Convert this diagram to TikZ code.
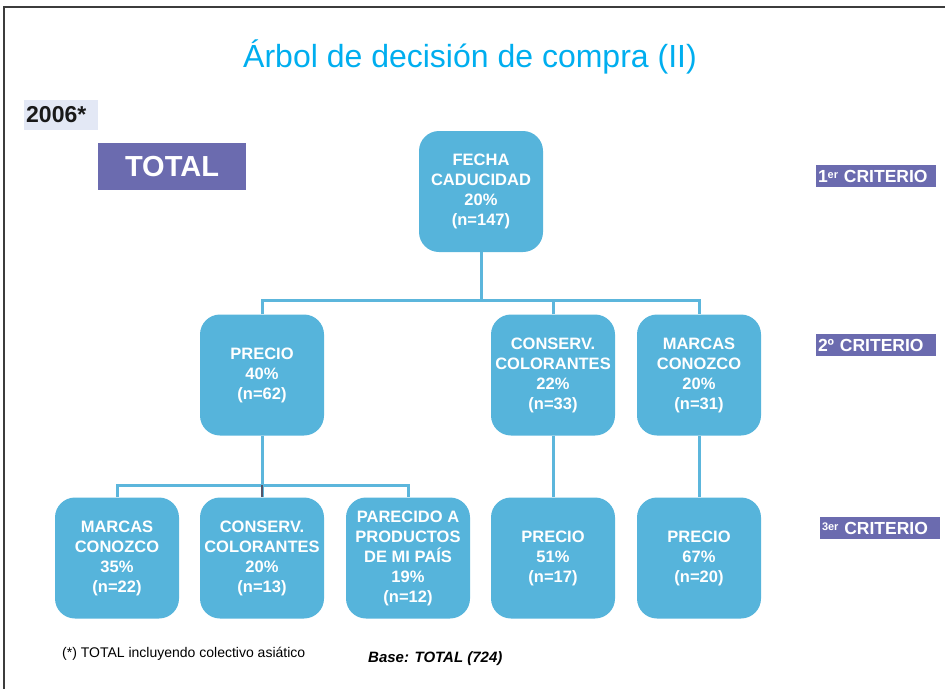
\documentclass[tikz,border=0pt]{standalone}
\usepackage{fontspec}
\setmainfont{Liberation Sans}
\usetikzlibrary{calc}
\definecolor{boxblue}{RGB}{86,180,219}
\definecolor{lineblue}{RGB}{92,182,220}
\definecolor{critpurple}{RGB}{107,107,175}
\definecolor{titlecyan}{RGB}{0,174,239}
\definecolor{yearbg}{RGB}{227,232,245}
\definecolor{framegray}{RGB}{60,60,60}
\definecolor{darkseg}{RGB}{85,85,105}
\tikzset{
  tbox/.style={draw=none, fill=boxblue, rounded corners=20pt, minimum width=124pt, minimum height=121pt,
    text=white, align=center, inner sep=2pt, font=\fontsize{16.5}{20}\selectfont\bfseries},
  conn/.style={draw=lineblue, line width=3pt},
  crit/.style={fill=critpurple, text=white, minimum width=120pt, minimum height=22pt, inner sep=2pt,
    text width=116pt, align=left, font=\fontsize{17.5}{17.5}\selectfont\bfseries},
}
\begin{document}
\begin{tikzpicture}[x=1pt,y=-1pt]
\useasboundingbox (0,0) rectangle (945,689);
% frame
\draw[framegray, line width=2pt] (945,7) -- (4,7) -- (4,689);
% title
\node[anchor=base, text=titlecyan, font=\fontsize{32}{36}\selectfont, inner sep=0] (title) at (470,67) {Árbol de decisión de compra (II)};
% year
\node[fill=yearbg, minimum width=74pt, minimum height=30pt, inner sep=0] (yearbox) at (61,114.5) {};
\node[anchor=west, font=\fontsize{23}{23}\selectfont\bfseries, text=black!90, inner sep=0] (year) at (26,114.5) {2006*};
% TOTAL
\node[fill=critpurple, text=white, minimum width=148pt, minimum height=47pt, inner sep=0, font=\fontsize{29}{29}\selectfont\bfseries] (total) at (172,166.5) {TOTAL};
% criteria labels
\node[crit] (c1) at (876,176) {1\raisebox{4pt}{\fontsize{11}{11}\selectfont er} CRITERIO};
\node[crit] (c2) at (876,345) {2º CRITERIO};
\node[crit] (c3) at (880,528) {\raisebox{4pt}{\fontsize{11}{11}\selectfont 3er} CRITERIO};
% boxes
\node[tbox] (root) at (481,191.5) {FECHA\\CADUCIDAD\\20\%\\(n=147)};
\node[tbox] (p2a) at (262,375) {PRECIO\\40\%\\(n=62)};
\node[tbox] (p2b) at (553,375) {CONSERV.\\COLORANTES\\22\%\\(n=33)};
\node[tbox] (p2c) at (699,375) {MARCAS\\CONOZCO\\20\%\\(n=31)};
\node[tbox] (l3a) at (117,558) {MARCAS\\CONOZCO\\35\%\\(n=22)};
\node[tbox] (l3b) at (262,558) {CONSERV.\\COLORANTES\\20\%\\(n=13)};
\node[tbox] (l3c) at (408,558) {PARECIDO A\\PRODUCTOS\\DE MI PAÍS\\19\%\\(n=12)};
\node[tbox] (l3d) at (553,558) {PRECIO\\51\%\\(n=17)};
\node[tbox] (l3e) at (699,558) {PRECIO\\67\%\\(n=20)};
% connectors
\coordinate (bar1) at (481,300);
\coordinate (bar2) at (262,485);
\draw[conn] (root.south) -- (bar1);
\draw[conn] (p2a.north) |- (bar1) -| (p2c.north);
\draw[conn] (p2b.north) -- (p2b.north |- bar1);
\draw[conn] (p2a.south) -- (bar2);
\draw[conn] (l3a.north) |- (bar2) -| (l3c.north);
\draw[conn] (bar2) -- (l3b.north);
\draw[draw=darkseg, line width=2pt] (bar2) -- (l3b.north);
\draw[conn] (p2b.south) -- (l3d.north);
\draw[conn] (p2c.south) -- (l3e.north);
% footnotes
\node[anchor=base west, font=\fontsize{14}{14}\selectfont, inner sep=0] (foot) at (62,657) {(*) TOTAL incluyendo colectivo asiático};
\node[anchor=base west, font=\fontsize{15}{15}\selectfont\bfseries\itshape, inner sep=0] (base) at (368,662) {Base: TOTAL (724)};
\end{tikzpicture}
\end{document}
